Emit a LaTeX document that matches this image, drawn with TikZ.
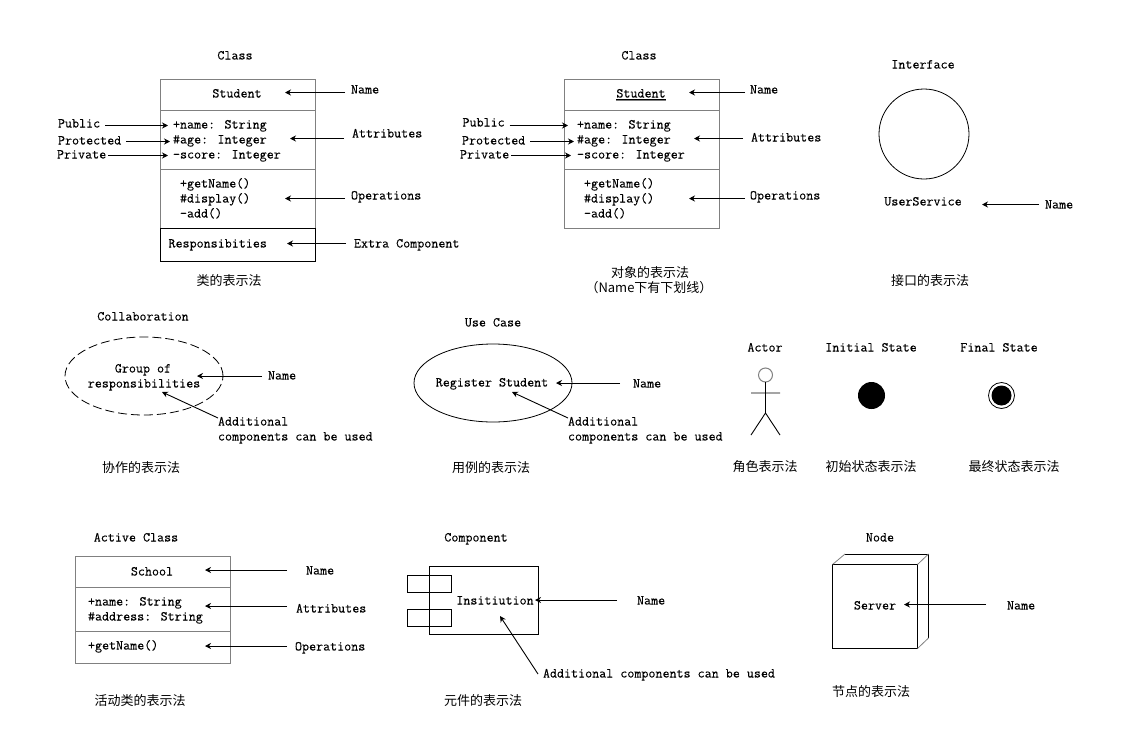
\documentclass[tikz,border=0pt]{standalone}
\usepackage{fontspec}
\newfontfamily\cjk{Noto Sans CJK SC}
\newfontfamily\labelmono[FakeBold=0.15]{Latin Modern Mono}
\usetikzlibrary{arrows.meta,shapes.geometric}
\definecolor{boxgray}{HTML}{808080}
\tikzset{
  txt/.style={inner sep=0pt,outer sep=0pt,font=\labelmono\fontsize{13.65}{14}\selectfont,text height=9pt,text depth=2pt},
  captxt/.style={inner sep=0pt,outer sep=0pt,font=\cjk\fontsize{13}{14}\selectfont},
  arr/.style={line width=0.9pt,-{Stealth[length=6pt,width=6pt]}},
  shapeline/.style={draw=black,line width=0.8pt,inner sep=0pt,outer sep=0pt},
  grayrow/.style={draw=boxgray,line width=1pt,inner sep=0pt,outer sep=0pt},
  blackrow/.style={draw=black,line width=1pt,inner sep=0pt,outer sep=0pt}
}
% \rownode{style}{name}{x1}{y1}{x2}{y2}
\newcommand{\rownode}[6]{%
  \pgfmathsetmacro{\rw}{#5-#3}\pgfmathsetmacro{\rh}{#6-#4}%
  \pgfmathsetmacro{\rx}{(#3+#5)/2}\pgfmathsetmacro{\ry}{(#4+#6)/2}%
  \node[#1,rectangle,minimum width=\rw pt,minimum height=\rh pt] (#2) at (\rx,\ry) {};}
% label at its left edge / its centre
\newcommand{\lab}[4]{\node[txt,anchor=west] (#1) at (#2,#3) {#4};}
\newcommand{\ctr}[4]{\node[txt] (#1) at (#2,#3) {#4};}
\newcommand{\capt}[4]{\node[captxt] (#1) at (#2,#3) {#4};}
% arrow from the left of a label, or from the right of it, to a named tip
\newcommand{\fromwest}[4]{\coordinate (#1-tip) at (#3,#4);\draw[arr] ([xshift=-#2pt]#1.west |- #1-tip) -- (#1-tip);}
\newcommand{\fromeast}[4]{\coordinate (#1-tip) at (#3,#4);\draw[arr] ([xshift=#2pt]#1.east |- #1-tip) -- (#1-tip);}
\begin{document}
\begin{tikzpicture}[x=1pt,y=-1pt]
\fill[white] (0,0) rectangle (1125,755);
\useasboundingbox (0,0) rectangle (1125,755);

% ---------- Class
\ctr{ct1}{235}{56}{Class}
\rownode{grayrow}{c1a}{160.5}{79.5}{315.5}{110.5}
\rownode{grayrow}{c1b}{160.5}{110.5}{315.5}{169.5}
\rownode{grayrow}{c1c}{160.5}{169.5}{315.5}{228.5}
\rownode{blackrow}{c1d}{160.5}{228.5}{315.5}{261.5}
\ctr{c1n}{237}{94}{Student}
\lab{c1at1}{173}{125}{+name: String}
\lab{c1at2}{173}{140}{\#age: Integer}
\lab{c1at3}{173}{155}{-score: Integer}
\lab{c1op1}{180}{184}{+getName()}
\lab{c1op2}{180}{199}{\#display()}
\lab{c1op3}{180}{214}{-add()}
\lab{c1re}{168.5}{244}{Responsibities}
\lab{l1name}{351}{90}{Name}
\lab{l1attr}{352}{134}{Attributes}
\lab{l1oper}{351}{196}{Operations}
\lab{l1extra}{354}{244}{Extra Component}
\lab{l1pub}{58}{124}{Public}
\lab{l1pro}{58}{141}{Protected}
\lab{l1pri}{57}{155}{Private}
\fromwest{l1name}{6}{285}{92.5}
\fromwest{l1attr}{8}{290}{138.5}
\fromwest{l1oper}{6}{285}{198.5}
\fromwest{l1extra}{8}{287}{243.5}
\fromeast{l1pub}{5}{168}{125.5}
\fromeast{l1pro}{5}{170}{141.5}
\fromeast{l1pri}{2}{168}{155.5}
\capt{cap1}{229}{281}{类的表示法}

% ---------- Object
\ctr{ct2}{639}{56}{Class}
\rownode{grayrow}{c2a}{564.5}{79.5}{719.5}{110.5}
\rownode{grayrow}{c2b}{564.5}{110.5}{719.5}{169.5}
\rownode{grayrow}{c2c}{564.5}{169.5}{719.5}{228.5}
\ctr{c2n}{641}{94}{Student}
\draw[black,line width=0.6pt] ([yshift=-0.2pt]c2n.south west) -- ([yshift=-0.2pt]c2n.south east);
\draw[boxgray,line width=0.8pt] ([yshift=-1.1pt]c2n.south west) -- ([yshift=-1.1pt]c2n.south east);
\lab{c2at1}{577}{125}{+name: String}
\lab{c2at2}{577}{140}{\#age: Integer}
\lab{c2at3}{577}{155}{-score: Integer}
\lab{c2op1}{584}{184}{+getName()}
\lab{c2op2}{584}{199}{\#display()}
\lab{c2op3}{584}{214}{-add()}
\lab{l2name}{750}{90}{Name}
\lab{l2attr}{751}{138}{Attributes}
\lab{l2oper}{750}{196}{Operations}
\lab{l2pub}{462.5}{123}{Public}
\lab{l2pro}{462}{141}{Protected}
\lab{l2pri}{460}{155}{Private}
\fromwest{l2name}{5}{689}{92.5}
\fromwest{l2attr}{8}{694}{138.5}
\fromwest{l2oper}{5}{689}{198.5}
\fromeast{l2pub}{5}{568}{125.5}
\fromeast{l2pro}{5}{574}{141.5}
\fromeast{l2pri}{2}{571}{155.5}
\capt{cap2a}{650}{273}{对象的表示法}
\capt{cap2b}{649}{288}{（Name下有下划线）}

% ---------- Interface
\ctr{ct3}{923}{65}{Interface}
\node[shapeline,circle,minimum size=90pt] (ifc) at (924,134) {};
\ctr{ifn}{923}{202}{UserService}
\lab{l3name}{1045}{205}{Name}
\fromwest{l3name}{6}{982}{204.5}
\capt{cap3}{930}{281}{接口的表示法}

% ---------- Collaboration
\ctr{ct4}{143}{317}{Collaboration}
\node[shapeline,ellipse,dashed,dash pattern=on 9pt off 4pt,minimum width=158pt,minimum height=78pt] (col) at (144,376) {};
\ctr{coa}{143}{369}{Group of}
\ctr{cob}{144}{384}{responsibilities}
\lab{l4name}{268}{376}{Name}
\fromwest{l4name}{6}{197}{376}
\lab{l4add}{218}{422}{Additional}
\lab{l4add2}{218}{437}{components can be used}
\coordinate (l4tip) at (162,392);
\draw[arr] ([yshift=4pt]l4add.west) -- (l4tip);
\capt{cap4}{141}{468}{协作的表示法}

% ---------- Use case
\ctr{ct5}{493}{323}{Use Case}
\node[shapeline,ellipse,minimum width=158pt,minimum height=78pt] (uc) at (493,383) {};
\ctr{ucn}{492}{383}{Register Student}
\lab{l5name}{633}{384}{Name}
\fromwest{l5name}{13}{556}{383}
\lab{l5add}{568}{422}{Additional}
\lab{l5add2}{568}{437}{components can be used}
\coordinate (l5tip) at (512,392);
\draw[arr] ([yshift=4pt]l5add.west) -- (l5tip);
\capt{cap5}{491}{468}{用例的表示法}

% ---------- Actor
\ctr{ct6}{765}{348}{Actor}
\node[draw=boxgray,line width=1pt,circle,inner sep=0pt,outer sep=0pt,minimum size=14pt] (head) at (765.5,375) {};
\coordinate (hip) at (765.5,413);
\coordinate (armL) at (751,393);
\coordinate (armR) at (780,393);
\coordinate (legL) at (751,435);
\coordinate (legR) at (780,435);
\draw[line width=0.9pt] (head.south) -- (hip) (armL) -- (armR) (legL) -- (hip) -- (legR);
\capt{cap6}{765}{467}{角色表示法}

% ---------- States
\ctr{ct7}{871}{348}{Initial State}
\node[circle,fill=black,inner sep=0pt,minimum size=27pt] (ini) at (871.5,395.5) {};
\capt{cap7}{871}{467}{初始状态表示法}
\ctr{ct8}{999}{348}{Final State}
\node[shapeline,circle,minimum size=26pt] (fin) at (1001.5,395.5) {};
\node[circle,fill=black,inner sep=0pt,minimum size=20pt] (fini) at (fin) {};
\capt{cap8}{1014}{467}{最终状态表示法}

% ---------- Active class
\ctr{ct9}{136}{538}{Active Class}
\rownode{grayrow}{c9a}{75.5}{556.5}{230.5}{587.5}
\rownode{grayrow}{c9b}{75.5}{587.5}{230.5}{631.5}
\rownode{grayrow}{c9c}{75.5}{631.5}{230.5}{663.5}
\ctr{c9n}{152}{572}{School}
\lab{c9at1}{88}{602}{+name: String}
\lab{c9at2}{88}{617}{\#address: String}
\lab{c9op}{88}{646}{+getName()}
\lab{l9name}{306}{571}{Name}
\lab{l9attr}{296}{609}{Attributes}
\lab{l9oper}{295}{647}{Operations}
\fromwest{l9name}{19}{205}{570}
\fromwest{l9attr}{9}{205}{606}
\fromwest{l9oper}{8}{205}{646}
\capt{cap9}{140}{701}{活动类的表示法}

% ---------- Component
\ctr{ct10}{476}{538}{Component}
\rownode{shapeline}{cmp}{429.5}{566.5}{538.5}{634.5}
\rownode{shapeline}{cmpa}{407.5}{575.5}{451.5}{592.5}
\rownode{shapeline}{cmpb}{407.5}{609.5}{451.5}{626.5}
\ctr{cmpn}{495}{601}{Insitiution}
\lab{l10name}{637}{601}{Name}
\fromwest{l10name}{20}{535}{600}
\lab{l10add}{543}{674}{Additional components can be used}
\coordinate (l10tip) at (500,616);
\draw[arr] ([xshift=-5pt]l10add.west) -- (l10tip);
\capt{cap10}{483}{701}{元件的表示法}

% ---------- Node
\ctr{ct11}{880}{538}{Node}
\rownode{shapeline}{srv}{832.5}{564.5}{917.5}{648.5}
\draw[line width=1.6pt] (srv.north west) -- (srv.north east);
\coordinate (b1) at (845,554);
\coordinate (b2) at (928.5,554);
\coordinate (b3) at (928.5,638);
\draw[line width=0.8pt] (b1) -- (b2) -- (b3);
\draw[boxgray,line width=0.8pt] (srv.north west) -- (b1) (srv.north east) -- (b2) (srv.south east) -- (b3);
\ctr{srvn}{875}{606}{Server}
\lab{l11name}{1007}{606}{Name}
\fromwest{l11name}{21}{904}{604.5}
\capt{cap11}{871}{692}{节点的表示法}
\end{tikzpicture}
\end{document}
